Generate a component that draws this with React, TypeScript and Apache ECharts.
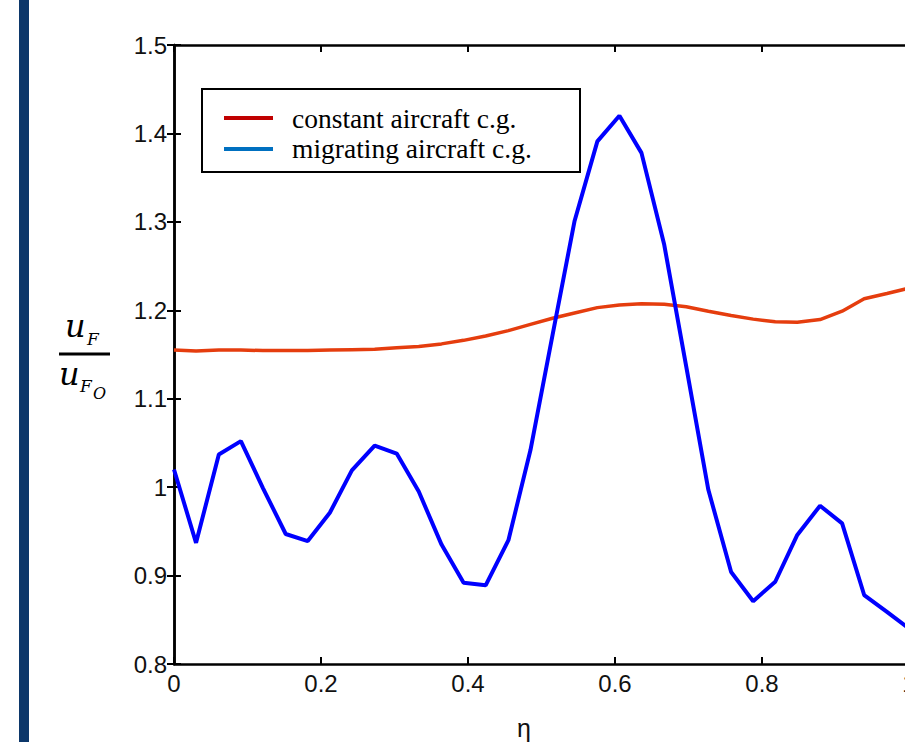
import React, { useEffect, useRef } from "react";
import * as echarts from "echarts";

// eta positions of the computed points
const etaValues = [
  0, 0.030, 0.061, 0.091, 0.121, 0.152, 0.182, 0.212, 0.242, 0.273, 0.303,
  0.333, 0.364, 0.394, 0.424, 0.455, 0.485, 0.515, 0.545, 0.576, 0.606,
  0.636, 0.667, 0.697, 0.727, 0.758, 0.788, 0.818, 0.848, 0.879, 0.909,
  0.939, 0.970, 1.0,
];

// constant aircraft c.g.
const constantCG = [
  1.155, 1.154, 1.155, 1.155, 1.1545, 1.1545, 1.1545, 1.155, 1.1555, 1.156,
  1.1575, 1.159, 1.162, 1.166, 1.171, 1.177, 1.184, 1.191, 1.197, 1.203,
  1.206, 1.2075, 1.2068, 1.204, 1.199, 1.194, 1.19, 1.187, 1.1865, 1.1895,
  1.199, 1.213, 1.219, 1.225,
];

// migrating aircraft c.g.
const migratingCG = [
  1.020, 0.937, 1.037, 1.052, 0.999, 0.947, 0.939, 0.971, 1.019, 1.047,
  1.038, 0.995, 0.935, 0.892, 0.889, 0.940, 1.042, 1.172, 1.301, 1.391,
  1.420, 1.378, 1.274, 1.136, 0.997, 0.904, 0.871, 0.893, 0.946, 0.979,
  0.959, 0.878, 0.859, 0.840,
];

const seriesNames = ["constant aircraft c.g.", "migrating aircraft c.g."];
const xTicks = [0, 0.2, 0.4, 0.6, 0.8, 1];
const yTicks = [0.8, 0.9, 1.0, 1.1, 1.2, 1.3, 1.4, 1.5];

const CHART_W = 930;

export default function App() {
  const ref = useRef<HTMLDivElement>(null);

  useEffect(() => {
    if (!ref.current) return;
    const chart = echarts.init(ref.current, undefined, { renderer: "svg" });

    const labelFont = {
      fontFamily: "Liberation Sans, Arial, sans-serif",
      fontSize: 24,
      color: "#111",
    };
    const axisLine = { show: true, lineStyle: { color: "#000", width: 2.5 } };
    const tick = { show: true, inside: true, length: 7, lineStyle: { color: "#000", width: 2 } };

    const xAxisBase = {
      type: "value" as const,
      min: xTicks[0],
      max: xTicks[xTicks.length - 1],
      interval: 0.2,
      splitLine: { show: false },
      axisLine,
      axisTick: tick,
    };
    const yAxisBase = {
      type: "value" as const,
      min: yTicks[0],
      max: yTicks[yTicks.length - 1],
      interval: 0.1,
      splitLine: { show: false },
      axisLine,
      axisTick: tick,
    };

    const fmt = (v: number) => {
      const r = Math.round(v * 10) / 10;
      if (Math.abs(r - Math.round(r)) < 1e-9) return String(Math.round(r));
      return r.toFixed(1);
    };

    chart.setOption({
      animation: false,
      backgroundColor: "#fff",
      grid: { left: 174, top: 45, right: CHART_W - 909, bottom: 78, containLabel: false },
      xAxis: [
        {
          ...xAxisBase,
          position: "bottom",
          axisLabel: { ...labelFont, margin: 7, formatter: fmt },
        },
        { ...xAxisBase, position: "top", axisLabel: { show: false } },
      ],
      yAxis: [
        {
          ...yAxisBase,
          position: "left",
          axisLabel: { ...labelFont, margin: 7, formatter: fmt },
        },
        { ...yAxisBase, position: "right", axisLabel: { show: false } },
      ],
      series: [
        {
          name: seriesNames[0],
          type: "line",
          data: etaValues.map((x, i) => [x, constantCG[i]]),
          showSymbol: false,
          lineStyle: { color: "#e53d0e", width: 3.5 },
          itemStyle: { color: "#e53d0e" },
          z: 2,
        },
        {
          name: seriesNames[1],
          type: "line",
          data: etaValues.map((x, i) => [x, migratingCG[i]]),
          showSymbol: false,
          lineStyle: { color: "#0000ff", width: 4 },
          itemStyle: { color: "#0000ff" },
          z: 3,
        },
      ],
      graphic: [
        // left dark band
        {
          type: "rect",
          shape: { x: 19, y: 0, width: 10, height: 742 },
          style: { fill: "#0c376a" },
          z: 10,
        },
        // legend box
        {
          type: "rect",
          shape: { x: 202, y: 89, width: 378, height: 83 },
          style: { fill: "#fff", stroke: "#000", lineWidth: 2 },
          z: 20,
        },
        {
          type: "line",
          shape: { x1: 224, y1: 118, x2: 273, y2: 118 },
          style: { stroke: "#c00000", lineWidth: 4 },
          z: 21,
        },
        {
          type: "line",
          shape: { x1: 224, y1: 149, x2: 273, y2: 149 },
          style: { stroke: "#0070c0", lineWidth: 4 },
          z: 21,
        },
        {
          type: "text",
          x: 292,
          y: 118,
          style: {
            text: seriesNames[0],
            fontFamily: "Liberation Serif, Times New Roman, serif",
            fontSize: 27.5,
            fill: "#000",
            textVerticalAlign: "middle",
          },
          z: 21,
        },
        {
          type: "text",
          x: 292,
          y: 148,
          style: {
            text: seriesNames[1],
            fontFamily: "Liberation Serif, Times New Roman, serif",
            fontSize: 27.5,
            fill: "#000",
            textVerticalAlign: "middle",
          },
          z: 21,
        },
        // y-axis label fraction u_F / u_F0
        {
          type: "text",
          x: 65,
          y: 342,
          style: {
            text: "u",
            fontFamily: "DejaVu Serif, serif",
            fontStyle: "italic",
            fontSize: 32,
            fill: "#000",
            textVerticalAlign: "bottom",
          },
          z: 21,
        },
        {
          type: "text",
          x: 87,
          y: 347,
          style: {
            text: "F",
            fontFamily: "DejaVu Serif, serif",
            fontStyle: "italic",
            fontSize: 17,
            fill: "#000",
            textVerticalAlign: "bottom",
          },
          z: 21,
        },
        {
          type: "line",
          shape: { x1: 59, y1: 354, x2: 110, y2: 354 },
          style: { stroke: "#000", lineWidth: 3 },
          z: 21,
        },
        {
          type: "text",
          x: 59,
          y: 390,
          style: {
            text: "u",
            fontFamily: "DejaVu Serif, serif",
            fontStyle: "italic",
            fontSize: 32,
            fill: "#000",
            textVerticalAlign: "bottom",
          },
          z: 21,
        },
        {
          type: "text",
          x: 80,
          y: 394,
          style: {
            text: "F",
            fontFamily: "DejaVu Serif, serif",
            fontStyle: "italic",
            fontSize: 17,
            fill: "#000",
            textVerticalAlign: "bottom",
          },
          z: 21,
        },
        {
          type: "text",
          x: 93,
          y: 401,
          style: {
            text: "O",
            fontFamily: "DejaVu Serif, serif",
            fontStyle: "italic",
            fontSize: 16,
            fill: "#000",
            textVerticalAlign: "bottom",
          },
          z: 21,
        },
        // x-axis label
        {
          type: "text",
          x: 524,
          y: 728,
          style: {
            text: "η",
            fontFamily: "Liberation Sans, Arial, sans-serif",
            fontSize: 25,
            fill: "#111",
            textAlign: "center",
            textVerticalAlign: "middle",
          },
          z: 21,
        },
      ],
    });

    return () => chart.dispose();
  }, []);

  return (
    <div
      style={{
        position: "fixed",
        left: 0,
        top: 0,
        width: 905,
        height: 742,
        overflow: "hidden",
        background: "#fff",
      }}
    >
      <div ref={ref} style={{ width: CHART_W, height: 742 }} />
    </div>
  );
}
